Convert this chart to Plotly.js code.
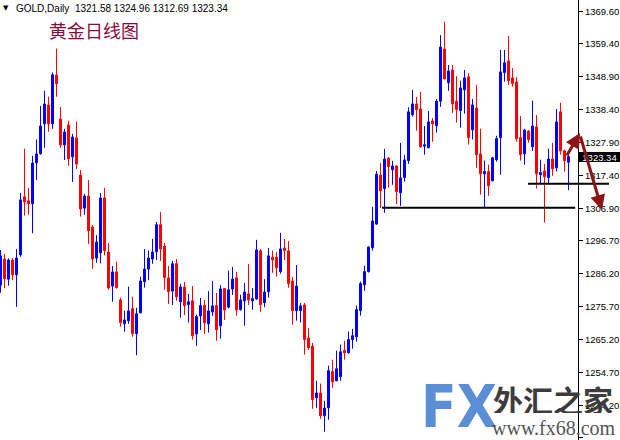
<!DOCTYPE html>
<html><head><meta charset="utf-8">
<script src="https://cdn.plot.ly/plotly-3.0.1.min.js"></script>
<style>html,body{margin:0;padding:0;background:#fff;overflow:hidden}#chart{width:620px;height:440px}</style>
</head><body><div id="chart"></div>
<script>
// ---- data ----
const symbolName = 'GOLD,Daily';
const chartTitle = '黄金日线图';
const openP = [1282.5,1290.8,1284.4,1290.5,1285.8,1292.1,1310.6,1309.3,1308.4,1321.4,
1324.3,1333.8,1339.8,1333.8,1349.3,1335.3,1327.1,1333.4,1323.3,1329.3,
1317.5,1307.0,1310.8,1301.0,1291.1,1292.8,1310.2,1293.0,1282.2,1286.7,
1277.8,1270.2,1271.2,1275.0,1267.1,1273.7,1283.6,1287.6,1290.8,1293.1,
1301.7,1294.9,1284.8,1280.6,1289.3,1277.2,1281.9,1276.3,1277.5,1267.0,
1272.7,1276.0,1270.2,1274.0,1276.0,1269.6,1281.4,1275.5,1281.3,1284.8,
1274.7,1277.5,1279.7,1277.5,1278.1,1293.4,1276.9,1280.4,1291.4,1291.4,
1286.8,1294.3,1293.4,1283.8,1274.4,1274.4,1276.2,1265.7,1263.1,1246.7,
1248.2,1241.0,1243.5,1255.0,1252.1,1253.4,1261.7,1261.0,1265.2,1266.1,
1274.4,1282.6,1286.8,1294.4,1301.9,1317.5,1313.2,1322.9,1319.2,1320.4,
1311.9,1316.7,1322.1,1336.7,1340.1,1338.5,1326.7,1326.2,1334.7,1333.2,
1341.0,1357.6,1346.9,1350.9,1341.0,1338.0,1344.6,1348.7,1331.9,1338.8,
1324.2,1317.9,1318.6,1315.7,1322.4,1329.4,1350.1,1353.8,1348.4,1347.1,
1329.4,1324.3,1331.5,1326.5,1332.8,1317.6,1318.8,1316.7,1322.6,1319.8,
1337.6,1325.2,1321.58];
const highP = [1293.7,1292.4,1291.0,1291.1,1294.0,1311.8,1325.9,1313.4,1323.6,1328.8,
1339.5,1344.3,1342.4,1350.1,1357.7,1339.1,1332.2,1334.8,1330.6,1334.5,
1319.1,1311.5,1315.9,1301.6,1298.4,1311.8,1313.4,1295.9,1288.6,1289.9,
1278.5,1274.4,1282.0,1278.8,1275.3,1285.2,1294.0,1293.5,1297.2,1302.6,
1305.8,1295.9,1288.6,1290.2,1290.8,1282.9,1283.5,1279.7,1282.2,1273.1,
1278.4,1277.8,1280.6,1283.8,1280.0,1282.5,1281.6,1287.1,1288.3,1286.7,
1279.4,1283.2,1289.2,1281.6,1296.9,1294.0,1284.4,1294.3,1293.5,1293.0,
1299.1,1297.2,1296.5,1285.1,1288.9,1276.8,1276.8,1268.9,1264.1,1252.1,
1251.2,1245.7,1256.9,1258.8,1261.7,1263.6,1264.8,1267.7,1268.6,1276.0,
1283.6,1288.7,1294.9,1307.4,1318.8,1321.3,1325.8,1323.2,1322.0,1320.6,
1327.7,1323.9,1339.1,1344.6,1342.3,1343.9,1333.1,1337.9,1335.6,1341.7,
1362.0,1366.2,1352.5,1352.5,1349.0,1347.5,1350.9,1349.9,1341.7,1346.1,
1332.2,1322.1,1320.8,1323.3,1330.0,1357.3,1357.3,1361.7,1351.5,1348.7,
1336.3,1332.2,1331.8,1341.2,1336.6,1322.4,1321.0,1325.9,1327.7,1338.5,
1340.5,1325.6,1324.96];
const lowP = [1280.1,1281.5,1282.3,1284.1,1275.6,1291.5,1304.6,1304.9,1299.0,1315.9,
1324.0,1326.2,1331.3,1332.2,1342.4,1326.2,1322.3,1320.4,1315.3,1319.4,
1304.3,1304.9,1295.6,1287.7,1289.6,1289.4,1292.0,1281.0,1277.2,1281.4,
1269.3,1267.7,1270.2,1266.1,1260.2,1273.5,1281.7,1284.1,1289.3,1290.5,
1290.2,1281.0,1276.5,1276.2,1277.5,1272.1,1273.0,1270.6,1265.2,1263.2,
1268.2,1267.0,1267.4,1272.7,1264.8,1265.5,1271.4,1275.1,1279.4,1272.8,
1274.4,1269.6,1276.2,1274.7,1277.8,1274.0,1275.5,1278.5,1286.4,1285.2,
1286.1,1290.5,1281.7,1269.9,1271.2,1270.6,1260.4,1261.9,1243.2,1243.5,
1240.0,1235.9,1239.7,1249.9,1251.9,1252.1,1258.8,1260.7,1262.3,1264.5,
1272.8,1280.7,1286.5,1293.5,1301.7,1307.0,1305.5,1313.5,1314.4,1308.3,
1307.7,1315.4,1321.1,1336.1,1331.6,1326.3,1324.0,1326.0,1328.1,1331.0,
1339.2,1347.9,1344.3,1337.3,1334.2,1332.6,1337.0,1327.2,1328.8,1319.8,
1311.3,1307.1,1310.9,1315.5,1321.8,1317.6,1347.2,1346.2,1345.6,1328.1,
1322.1,1320.8,1327.8,1325.2,1313.2,1314.8,1302.4,1314.8,1317.3,1318.6,
1324.0,1318.6,1312.69];
const closeP = [1291.8,1284.5,1290.5,1285.8,1291.1,1309.6,1309.0,1308.4,1321.3,1324.2,
1333.1,1340.1,1333.8,1349.4,1346.6,1327.1,1331.2,1322.7,1329.6,1321.0,
1306.7,1310.8,1299.8,1290.8,1296.2,1310.2,1293.5,1281.6,1286.7,1281.7,
1270.6,1271.4,1274.3,1267.1,1273.4,1283.8,1287.6,1291.1,1293.0,1301.7,
1294.0,1284.9,1280.4,1289.3,1278.8,1281.9,1276.0,1277.2,1266.4,1272.5,
1276.0,1270.5,1274.3,1275.9,1268.3,1281.3,1274.6,1281.0,1284.4,1274.6,
1277.8,1280.3,1277.8,1278.2,1293.7,1276.3,1280.3,1291.8,1290.5,1288.0,
1294.0,1293.5,1283.0,1274.4,1282.2,1275.9,1265.2,1262.6,1246.1,1248.2,
1241.0,1243.4,1255.3,1251.8,1255.9,1261.3,1261.0,1265.2,1266.4,1274.7,
1283.0,1286.8,1294.6,1302.9,1317.8,1312.5,1322.6,1320.2,1320.4,1312.2,
1316.6,1322.3,1337.6,1340.1,1338.3,1326.5,1327.1,1334.4,1333.8,1341.0,
1358.2,1348.1,1350.6,1340.2,1338.3,1345.2,1348.4,1329.4,1339.8,1324.0,
1317.9,1318.6,1314.1,1323.0,1329.1,1350.3,1353.2,1347.5,1346.6,1329.1,
1324.0,1331.8,1328.8,1333.1,1317.9,1318.3,1317.0,1322.6,1319.5,1334.4,
1325.2,1322.1,1323.34];
const priceTicks = [1369.60,1359.40,1348.90,1338.40,1327.90,1317.40,1306.90,1296.70,1286.20,1275.70,1265.20,1254.70,1244.20,1234.00];
// hand-drawn support lines: [price, start bar]
const supportLow = 1307.1, supportLowStart = 95.4;
const supportHigh = 1314.75, supportHighStart = 131.9;

// ---- geometry ----
const W = 620, H = 440, PW = 578;
const yMin = 1233.25, yMax = 1373.17;
const xMin = -0.125, xMax = xMin + PW / 4;
const px = v => v / PW;                 // pixel x -> paper
const py = v => 1 - v / H;              // pixel y -> paper
const yToPaper = v => (v - yMin) / (yMax - yMin);
const xToPaper = v => (v - xMin) / (xMax - xMin);

const bars = openP.map((_, i) => i);
const last = openP.length - 1;
const fmt = v => v.toFixed(2);

const trace = {
  type: 'candlestick', x: bars, open: openP, high: highP, low: lowP, close: closeP,
  increasing: {line: {color: '#0000ff', width: 1}, fillcolor: '#0000ff'},
  decreasing: {line: {color: '#ff0000', width: 1}, fillcolor: '#ff0000'},
  whiskerwidth: 0, hoverinfo: 'skip', showlegend: false
};

const arrowColor = '#8b1414';
const layout = {
  width: W, height: H,
  margin: {l: 0, r: W - PW, t: 0, b: 0, pad: 0},
  paper_bgcolor: '#ffffff', plot_bgcolor: '#ffffff',
  showlegend: false, boxgap: 0.5, boxgroupgap: 0,
  xaxis: {range: [xMin, xMax], visible: false, rangeslider: {visible: false}, fixedrange: true},
  yaxis: {
    side: 'right', range: [yMin, yMax], tickvals: priceTicks, ticktext: priceTicks.map(fmt),
    ticks: 'outside', ticklen: 4, tickcolor: '#000', tickwidth: 1,
    showline: true, linecolor: '#000', linewidth: 1, showgrid: false, zeroline: false,
    tickfont: {family: 'Liberation Sans, Arial, sans-serif', size: 9.5, color: '#000'}, fixedrange: true
  },
  shapes: [
    {type: 'line', xref: 'x', yref: 'y', x0: supportLowStart, x1: xMax - 0.7, y0: supportLow, y1: supportLow,
     line: {color: '#000', width: 2}},
    {type: 'line', xref: 'paper', yref: 'paper', x0: xToPaper(supportHighStart), x1: px(609),
     y0: yToPaper(supportHigh), y1: yToPaper(supportHigh), line: {color: '#000', width: 2}}
  ],
  annotations: [
    {xref: 'paper', yref: 'paper', x: px(6), y: py(7.5), xanchor: 'center', yanchor: 'middle', showarrow: false,
     text: '▼', font: {family: 'DejaVu Sans', size: 7, color: '#000'}},
    {xref: 'paper', yref: 'paper', x: px(14), y: py(8), xanchor: 'left', yanchor: 'middle', showarrow: false,
     text: symbolName + '  ' + [openP[last], highP[last], lowP[last], closeP[last]].map(fmt).join(' '),
     font: {family: 'Liberation Sans, Arial, sans-serif', size: 10, color: '#000'}},
    {xref: 'paper', yref: 'paper', x: px(94), y: py(30), xanchor: 'center', yanchor: 'middle', showarrow: false,
     text: chartTitle, font: {family: 'Noto Sans CJK SC', size: 18, color: '#8b0a3c'}},
    {xref: 'paper', yref: 'y', x: px(579), y: closeP[last], xanchor: 'left', yanchor: 'middle', showarrow: false,
     text: fmt(closeP[last]), bgcolor: '#000', borderpad: 0, borderwidth: 0, width: 41, height: 10,
     font: {family: 'Liberation Sans, Arial, sans-serif', size: 9.5, color: '#fff'}},
    {xref: 'paper', yref: 'paper', x: px(580), y: py(133), ax: -14, ay: 24, axref: 'pixel', ayref: 'pixel',
     showarrow: true, text: '', arrowhead: 2, arrowsize: 1, arrowwidth: 3, arrowcolor: arrowColor, standoff: 0},
    {xref: 'paper', yref: 'paper', x: px(602), y: py(210), ax: -22, ay: -75, axref: 'pixel', ayref: 'pixel',
     showarrow: true, text: '', arrowhead: 2, arrowsize: 1, arrowwidth: 3, arrowcolor: arrowColor, standoff: 0},
    {xref: 'paper', yref: 'paper', x: px(459), y: py(407), xanchor: 'center', yanchor: 'middle', showarrow: false,
     height: 56, text: '<b>FX</b>', font: {family: 'DejaVu Sans Condensed, DejaVu Sans', size: 58, color: '#5a8fd6'}},
    {xref: 'paper', yref: 'paper', x: px(553), y: py(399), xanchor: 'center', yanchor: 'middle', showarrow: false,
     height: 28, text: '<b>外汇之家</b>', font: {family: 'Noto Sans CJK SC', size: 30, color: '#3c3c3c'}},
    {xref: 'paper', yref: 'paper', x: px(554), y: py(428), xanchor: 'center', yanchor: 'middle', showarrow: false,
     height: 16, text: 'www.fx68.com', font: {family: 'Liberation Serif, serif', size: 20, color: '#555'}}
  ]
};

Plotly.newPlot('chart', [trace], layout, {staticPlot: true, displayModeBar: false});
</script></body></html>
